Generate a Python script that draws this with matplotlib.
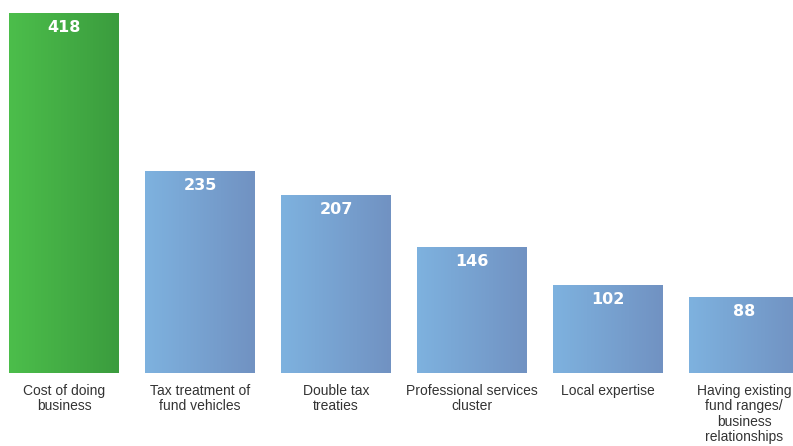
import numpy as np
import matplotlib.pyplot as plt
from matplotlib.colors import LinearSegmentedColormap

categories = ["Cost of doing\nbusiness", "Tax treatment of\nfund vehicles", "Double tax\ntreaties",
              "Professional services\ncluster", "Local expertise",
              "Having existing\nfund ranges/\nbusiness\nrelationships"]
values = [418, 235, 207, 146, 102, 88]
highlight = [True, False, False, False, False, False]

green = LinearSegmentedColormap.from_list("g", ["#4cbe4b", "#3b9c3e"])
blue = LinearSegmentedColormap.from_list("b", ["#7eb2df", "#7192c2"])

W, H = 793, 446
fig = plt.figure(figsize=(W / 100, H / 100), dpi=100)
base = 373  # pixel row of bar bottoms
ax = fig.add_axes([0, (H - base) / H, 1, base / H])
ax.axis("off")

pitch, width, x0 = 136, 110, 64
grad = np.linspace(0, 1, 256).reshape(1, -1)
bw = width / pitch
for i, (v, hl) in enumerate(zip(values, highlight)):
    ax.imshow(grad, cmap=green if hl else blue, aspect="auto",
              extent=(i - bw / 2, i + bw / 2, 0, v), zorder=1)
    ax.text(i, v - 14 / 0.859, str(v), ha="center", va="center", color="white",
            fontsize=11.5, fontweight="heavy", family="DejaVu Sans")
    ax.text(i, -11 / 0.859, categories[i], ha="center", va="top", color="#333333",
            fontsize=10, family=["Liberation Sans Narrow", "Liberation Sans"],
            linespacing=1.12, clip_on=False)

ax.set_xlim(-x0 / pitch, (W - x0) / pitch)
ax.set_ylim(0, base / 0.859)

fig.savefig("out.png", dpi=100)
